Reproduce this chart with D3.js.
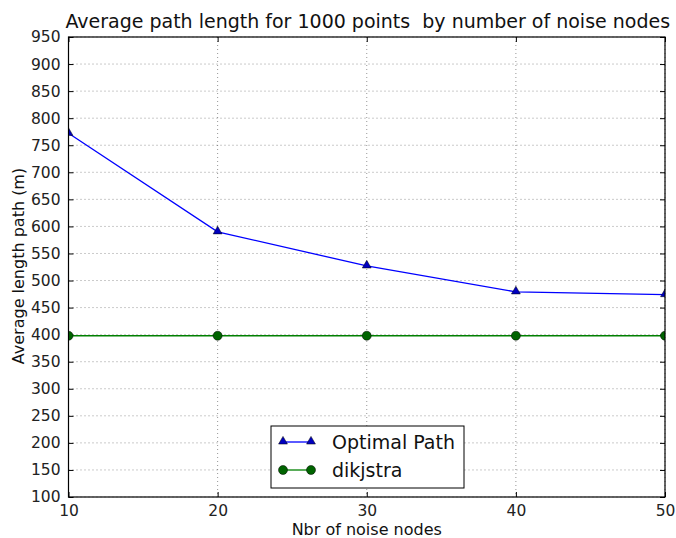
<!DOCTYPE html>
<html><head><meta charset="utf-8">
<script src="https://cdn.jsdelivr.net/npm/d3@7"></script>
<style>body{margin:0;background:#fff}svg{display:block}text{font-family:"DejaVu Sans",sans-serif;white-space:pre}</style>
</head><body>
<script>
const xValues = [10, 20, 30, 40, 50];
const optimalPath = [772, 590, 527, 479, 474];
const dijkstra = [398, 398, 398, 398, 398];
const yTicks = [100,150,200,250,300,350,400,450,500,550,600,650,700,750,800,850,900,950];
const xTicks = [10, 20, 30, 40, 50];

const W = 676, H = 538;
const m = {left: 68.5, right: 665, top: 37, bottom: 497};
const svg = d3.select("body").append("svg").attr("width", W).attr("height", H);
const x = d3.scaleLinear().domain([10, 50]).range([m.left, m.right]);
const y = d3.scaleLinear().domain([100, 950]).range([m.bottom, m.top]);

// grid
const g = svg.append("g");
g.selectAll(".gy").data(yTicks).enter().append("line")
  .attr("x1", m.left).attr("x2", m.right).attr("y1", d => y(d)).attr("y2", d => y(d))
  .attr("stroke", "#000").attr("stroke-opacity", 0.6).attr("stroke-width", 0.7).attr("stroke-dasharray", "1,3");
g.selectAll(".gx").data(xTicks).enter().append("line")
  .attr("y1", m.top).attr("y2", m.bottom).attr("x1", d => x(d)).attr("x2", d => x(d))
  .attr("stroke", "#000").attr("stroke-opacity", 0.6).attr("stroke-width", 0.7).attr("stroke-dasharray", "1,3");

// axes
const yAxisL = d3.axisLeft(y).tickValues(yTicks).tickSizeInner(-5).tickSizeOuter(0).tickPadding(8);
const yAxisR = d3.axisRight(y).tickValues(yTicks).tickSizeInner(-5).tickSizeOuter(0).tickFormat("");
const xAxisB = d3.axisBottom(x).tickValues(xTicks).tickSizeInner(-5).tickSizeOuter(0).tickPadding(8);
const xAxisT = d3.axisTop(x).tickValues(xTicks).tickSizeInner(-5).tickSizeOuter(0).tickFormat("");
function style(sel){
  sel.select(".domain").remove();
  sel.selectAll("line").attr("stroke", "#000").attr("stroke-width", 1);
  sel.selectAll("text").attr("font-size", 15.5).attr("fill", "#222").attr("font-family", "DejaVu Sans");
}
svg.append("g").attr("transform", `translate(${m.left},0)`).call(yAxisL).call(style);
svg.append("g").attr("transform", `translate(${m.right},0)`).call(yAxisR).call(style);
svg.append("g").attr("transform", `translate(0,${m.bottom})`).call(xAxisB).call(style);
svg.append("g").attr("transform", `translate(0,${m.top})`).call(xAxisT).call(style);

// lines
const line = d3.line().x((d, i) => x(xValues[i])).y(d => y(d));
svg.append("path").datum(optimalPath).attr("d", line).attr("fill", "none").attr("stroke", "#0000ff").attr("stroke-width", 1.3);
svg.append("path").datum(dijkstra).attr("d", line).attr("fill", "none").attr("stroke", "#008000").attr("stroke-width", 1.3);

const tri = d3.symbol().type(d3.symbolTriangle).size(34);
const clipId = "clip";
svg.append("clipPath").attr("id", clipId).append("rect")
  .attr("x", m.left).attr("y", m.top).attr("width", m.right - m.left).attr("height", m.bottom - m.top);
const marks = svg.append("g").attr("clip-path", `url(#${clipId})`);
marks.selectAll(".tri").data(optimalPath).enter().append("path")
  .attr("d", tri).attr("transform", (d, i) => `translate(${x(xValues[i])},${y(d) - 0.5})`)
  .attr("fill", "#0000bf").attr("stroke", "#000").attr("stroke-width", 0.5);
marks.selectAll(".circ").data(dijkstra).enter().append("circle")
  .attr("cx", (d, i) => x(xValues[i])).attr("cy", d => y(d)).attr("r", 4.5)
  .attr("fill", "#006400").attr("stroke", "#000").attr("stroke-width", 0.5);

// frame
svg.append("rect").attr("x", m.left).attr("y", m.top).attr("width", m.right - m.left).attr("height", m.bottom - m.top)
  .attr("fill", "none").attr("stroke", "#000").attr("stroke-width", 1.2);

// title & labels
svg.append("text").attr("x", (m.left + m.right) / 2 + 1).attr("y", 28).attr("text-anchor", "middle")
  .attr("font-size", 19).attr("fill", "#111").text("Average path length for 1000 points  by number of noise nodes");
svg.append("text").attr("x", (m.left + m.right) / 2).attr("y", 535).attr("text-anchor", "middle")
  .attr("font-size", 16).attr("fill", "#111").text("Nbr of noise nodes");
svg.append("text").attr("transform", `translate(24,${(m.top + m.bottom) / 2 - 1}) rotate(-90)`).attr("text-anchor", "middle")
  .attr("font-size", 16).attr("fill", "#111").text("Average length path (m)");

// legend
const lg = svg.append("g");
lg.append("rect").attr("x", 271).attr("y", 426).attr("width", 193).attr("height", 62)
  .attr("fill", "#fff").attr("stroke", "#000").attr("stroke-width", 1);
const legendItems = [
  {name: "Optimal Path", color: "#0000ff", fill: "#0000bf", shape: "tri"},
  {name: "dikjstra", color: "#008000", fill: "#006400", shape: "circ"}
];
legendItems.forEach((it, i) => {
  const yy = 442 + i * 28;
  lg.append("line").attr("x1", 283).attr("x2", 311).attr("y1", yy).attr("y2", yy).attr("stroke", it.color).attr("stroke-width", 1.3);
  [283, 311].forEach(xx => {
    if (it.shape === "tri") lg.append("path").attr("d", tri).attr("transform", `translate(${xx},${yy - 0.5})`).attr("fill", it.fill).attr("stroke", "#000").attr("stroke-width", 0.5);
    else lg.append("circle").attr("cx", xx).attr("cy", yy).attr("r", 4.5).attr("fill", it.fill).attr("stroke", "#000").attr("stroke-width", 0.5);
  });
  lg.append("text").attr("x", 332).attr("y", yy + 6.5).attr("font-size", 19).attr("fill", "#111").text(it.name);
});
</script>
</body></html>
